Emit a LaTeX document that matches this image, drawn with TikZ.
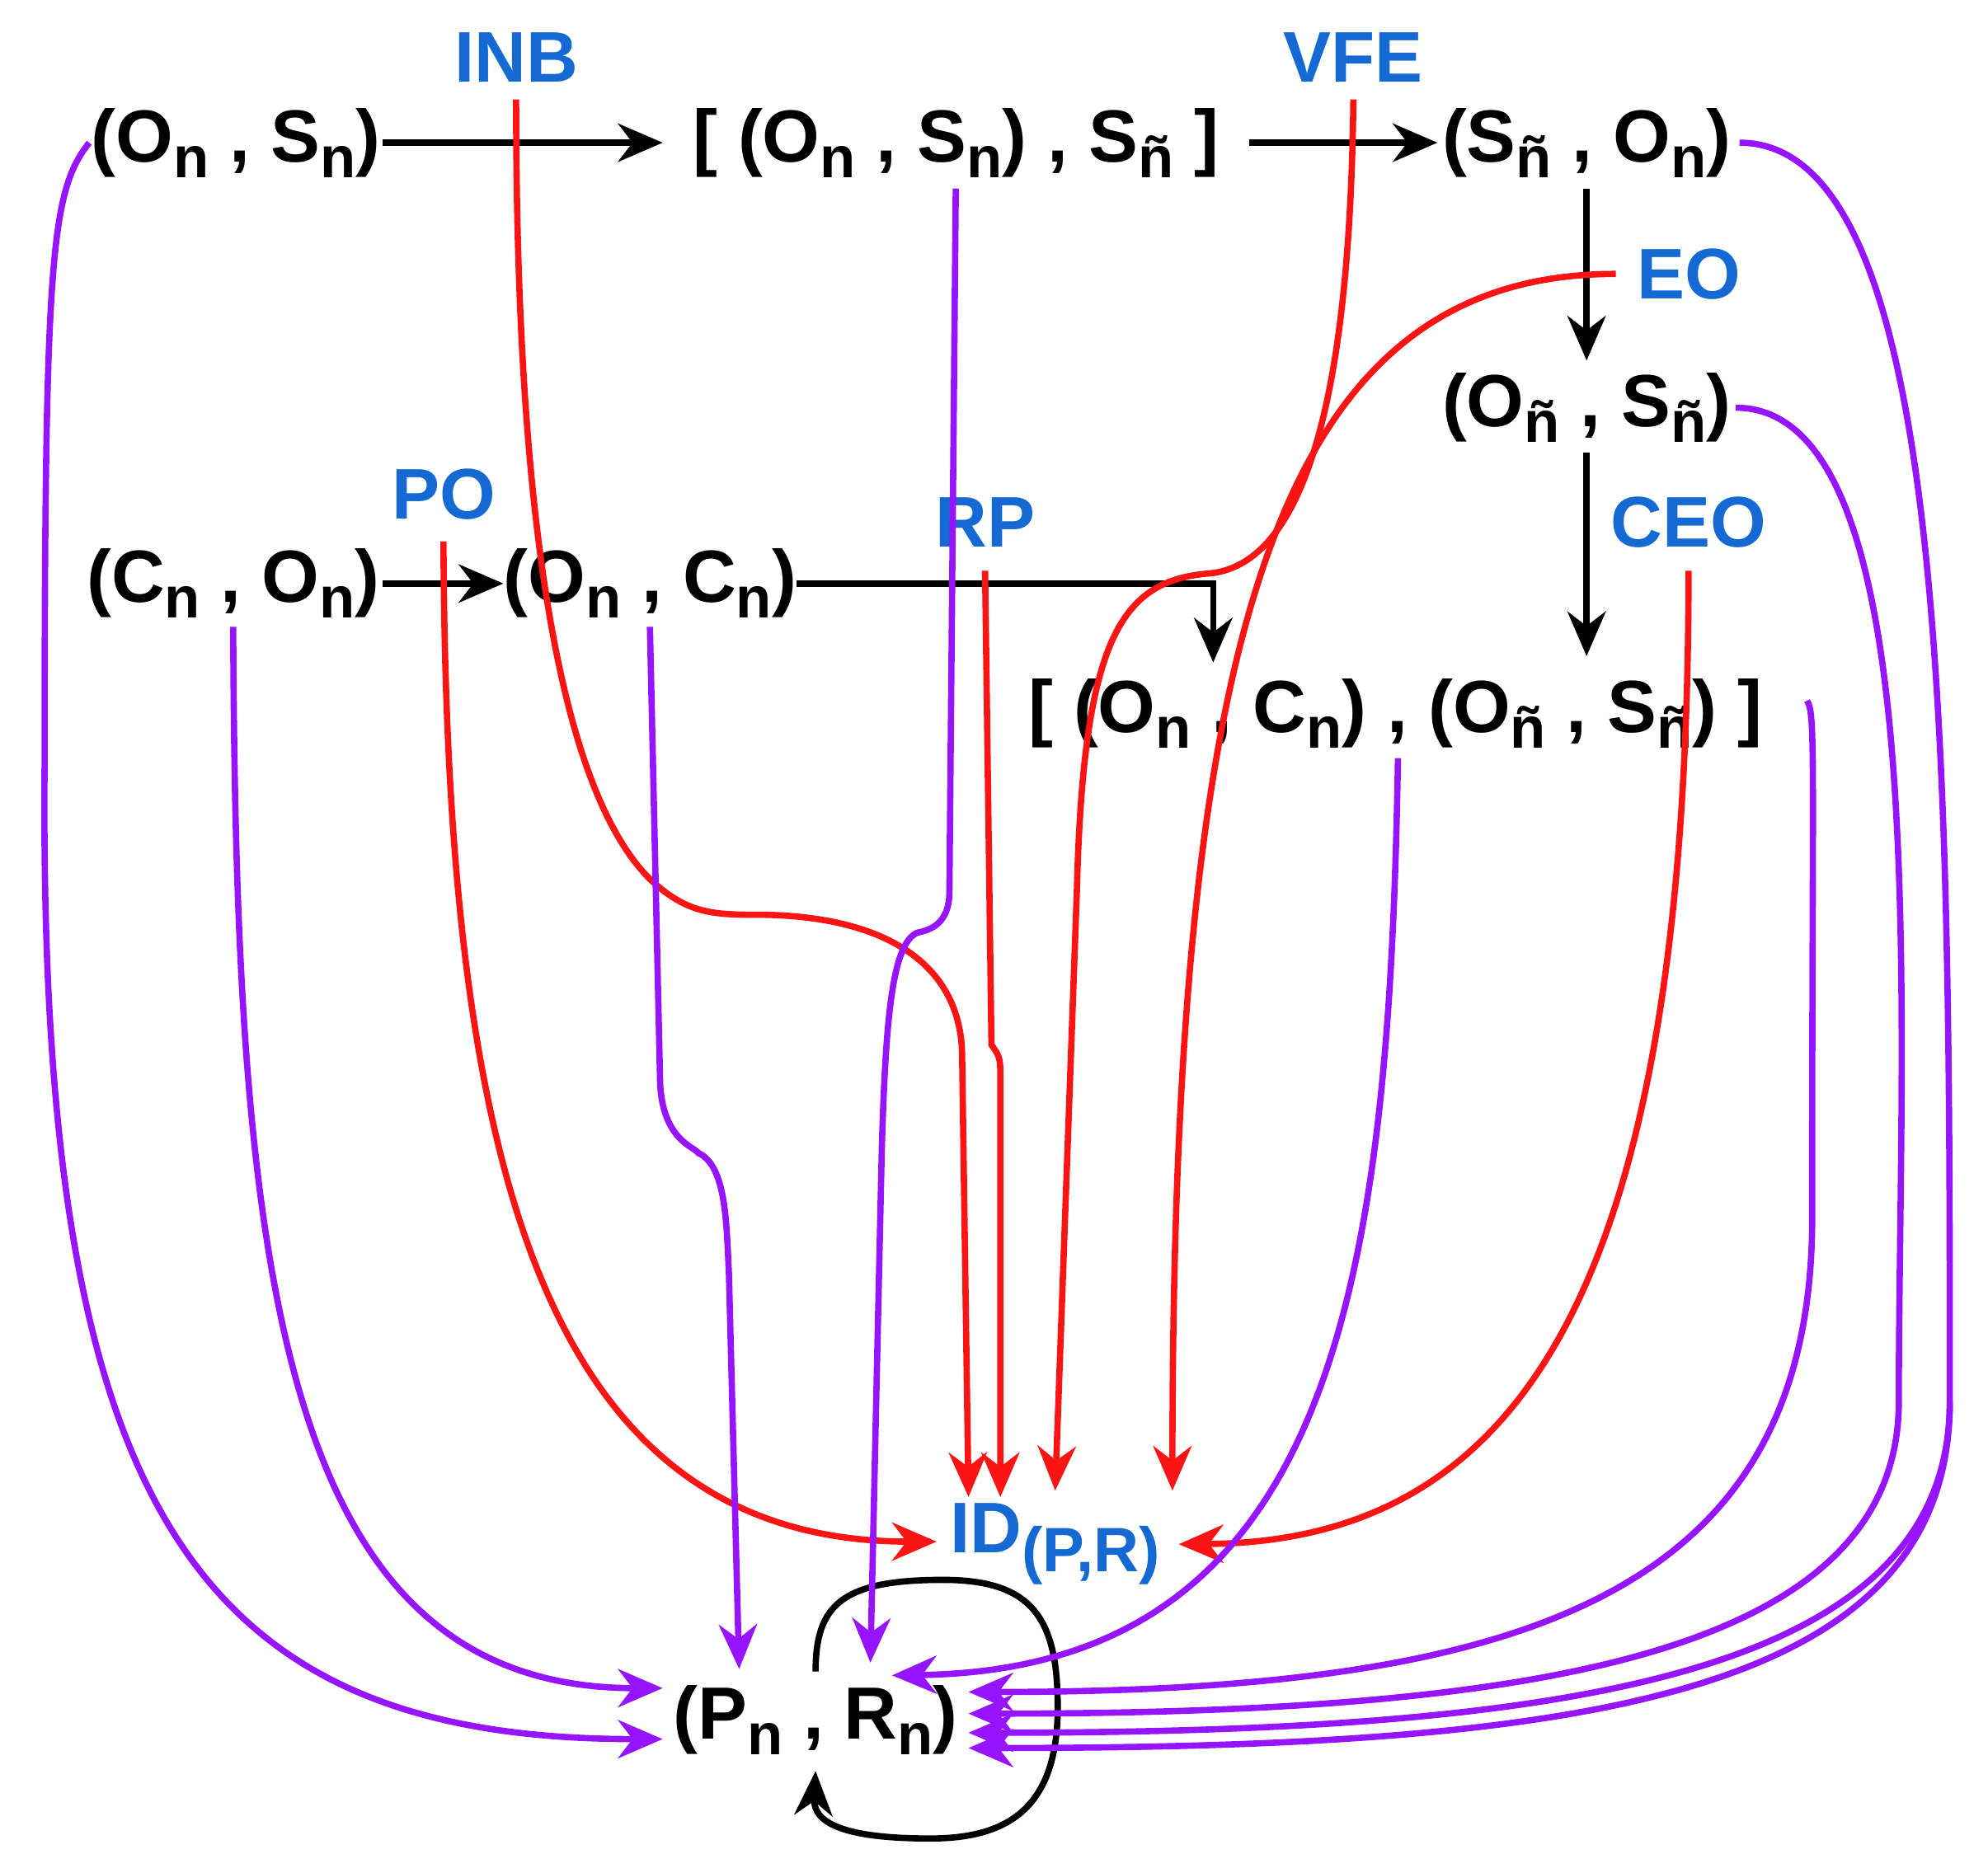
\documentclass[tikz,border=0pt]{standalone}
\usepackage{fontspec}
\setmainfont{Liberation Sans}
\usetikzlibrary{arrows.meta}
\newcommand\lo[2]{#1\raisebox{-0.4ex}{\fontsize{13}{13}\selectfont #2}}
\definecolor{blu}{RGB}{20,105,210}
\definecolor{pur}{RGB}{150,20,255}
\begin{document}
\begin{tikzpicture}[x=0.01cm,y=-0.01cm,
  t/.style={font=\fontsize{16.5}{20}\selectfont\bfseries,inner sep=0pt},
  lab/.style={font=\fontsize{16}{20}\selectfont\bfseries,text=blu,inner sep=0pt},
  blk/.style={line width=1.4pt,-{Stealth[length=0.35cm,width=0.3cm]}},
  red/.style={line width=1.4pt,draw={rgb,255:red,250;green,20;blue,20},-{Stealth[length=0.35cm,width=0.3cm]}},
  pu/.style={line width=1.4pt,draw=pur,-{Stealth[length=0.35cm,width=0.3cm]}}]
\useasboundingbox (0,0) rectangle (1560,1455);
\node[t] (a) at (185,112) {(\lo{O}{n} , \lo{S}{n})};
\node[t] (b) at (750,112) {[ (\lo{O}{n} , \lo{S}{n}) , \lo{S}{ñ} ]};
\node[t] (c) at (1245,112) {(\lo{S}{ñ} , \lo{O}{n})};
\node[t] (d) at (1245,320) {(\lo{O}{ñ} , \lo{S}{ñ})};
\node[t] (e) at (183,458) {(\lo{C}{n} , \lo{O}{n})};
\node[t] (f) at (510,458) {(\lo{O}{n} , \lo{C}{n})};
\node[t] (g) at (1095,560) {[ (\lo{O}{n} , \lo{C}{n}) , (\lo{O}{ñ} , \lo{S}{ñ}) ]};
\node[lab] (id) at (828,1212) {ID\raisebox{-0.5ex}{\fontsize{14}{14}\selectfont (P,R)}};
\node[t] (p) at (640,1350) {(\lo{P}{n} , \lo{R}{n})};
\node[lab] (inb) at (405,45) {INB};
\node[lab] (vfe) at (1062,45) {VFE};
\node[lab] (eo) at (1325,215) {EO};
\node[lab] (ceo) at (1325,410) {CEO};
\node[lab] (po) at (348,388) {PO};
\node[lab] (rp) at (773,410) {RP};
% black
\draw[blk] (300,112) -- (520,112);
\draw[blk] (980,112) -- (1128,112);
\draw[blk] (1245,148) -- (1245,283);
\draw[blk] (1245,355) -- (1245,515);
\draw[blk] (300,458) -- (395,458);
\draw[blk] (625,458) -- (952,458) -- (952,520);
\draw[blk] (640,1312) .. controls (640,1260) and (660,1240) .. (740,1240) .. controls (810,1240) and (830,1270) .. (830,1340) .. controls (830,1420) and (790,1443) .. (730,1443) .. controls (660,1443) and (638,1430) .. (640,1390);
% red
\draw[red] (405,78) .. controls (405,300) and (420,600) .. (510,690) .. controls (540,718) and (560,718) .. (600,718) .. controls (700,720) and (755,760) .. (755,830) -- (760,1175);
\draw[red] (1062,78) .. controls (1060,250) and (1040,440) .. (950,450) .. controls (880,455) and (850,500) .. (845,700) -- (828,1170);
\draw[red] (1268,215) .. controls (1000,215) and (920,500) .. (920,1170);
\draw[red] (773,448) -- (778,820) .. controls (785,830) and (785,830) .. (785,850) -- (785,1175);
\draw[red] (348,425) .. controls (350,900) and (420,1210) .. (735,1210);
\draw[red] (1325,448) .. controls (1325,1000) and (1200,1210) .. (925,1212);
% purple
\draw[pu] (70,112) .. controls (40,150) and (35,200) .. (35,600) .. controls (30,1180) and (150,1365) .. (520,1365);
\draw[pu] (183,492) .. controls (185,1000) and (220,1325) .. (520,1325);
\draw[pu] (510,492) -- (518,850) .. controls (520,895) and (545,900) .. (548,905) .. controls (570,915) and (570,960) .. (572,1000) -- (580,1310);
\draw[pu] (750,148) -- (745,700) .. controls (745,725) and (730,730) .. (720,732) .. controls (700,740) and (695,800) .. (692,900) -- (683,1305);
\draw[pu] (1097,595) .. controls (1090,1000) and (1050,1310) .. (700,1315);
\draw[pu] (1418,550) .. controls (1425,560) and (1422,600) .. (1422,950) .. controls (1425,1250) and (1200,1328) .. (760,1328);
\draw[pu] (1362,320) .. controls (1520,320) and (1490,800) .. (1490,1100) .. controls (1490,1300) and (1200,1345) .. (760,1345);
\draw[pu] (1365,112) .. controls (1530,112) and (1530,600) .. (1530,1100) .. controls (1530,1310) and (1250,1360) .. (760,1360);
\draw[pu] (1530,1100) .. controls (1530,1330) and (1250,1372) .. (760,1372);
\end{tikzpicture}
\end{document}
